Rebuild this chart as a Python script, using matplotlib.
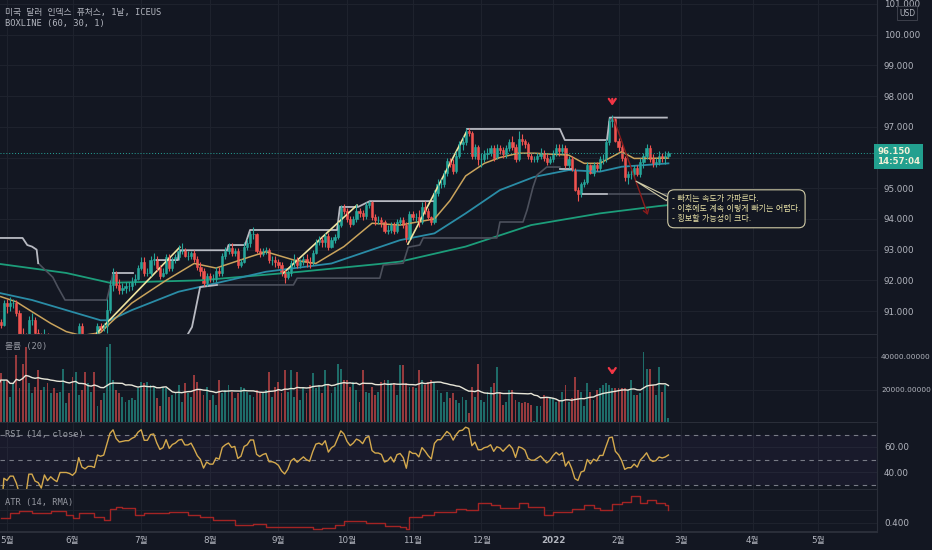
import numpy as np
import pandas as pd
import matplotlib.pyplot as plt
from matplotlib.ticker import FormatStrFormatter, FuncFormatter
from matplotlib.transforms import blended_transform_factory

plt.rcParams['font.family'] = ['DejaVu Sans', 'Noto Sans CJK KR']
MONO = ['DejaVu Sans Mono', 'Noto Sans CJK KR']

# 일봉 종가/고가/저가 (2021-04-28 ~ 2022-02-23, 평일 기준)
closes = (
    [90.65, 90.55, 91.25]
    + [91.15, 91.25, 91.25, 90.95, 90.25, 90.15, 90.10, 90.70, 90.70, 90.30, 90.20, 89.80, 90.25, 89.85, 90.00,
       89.80, 89.65, 90.00, 90.00, 90.00, 89.95]
    + [89.85, 89.95, 90.50, 90.05, 89.95, 90.05, 90.05, 90.00, 90.50, 90.45, 90.50, 91.05, 91.85, 92.20, 91.85,
       91.70, 91.75, 91.80, 91.80, 91.95, 92.05, 92.40]
    + [92.60, 92.25, 92.25, 92.65, 92.70, 92.40, 92.15, 92.25, 92.75, 92.40, 92.65, 92.75, 92.95, 93.00, 92.80,
       92.80, 92.90, 92.70, 92.45, 92.30, 91.90, 92.15]
    + [92.05, 92.05, 92.30, 92.25, 92.80, 92.95, 93.05, 92.90, 92.95, 92.50, 92.60, 93.10, 93.20, 93.50, 93.50,
       92.95, 92.85, 92.95, 93.00, 92.65, 92.65, 92.60]
    + [92.50, 92.25, 92.10, 92.25, 92.55, 92.65, 92.50, 92.60, 92.70, 92.60, 92.55, 92.90, 93.25, 93.30, 93.25,
       93.45, 93.10, 93.30, 93.40, 93.80, 94.35, 94.25]
    + [94.00, 93.85, 94.00, 94.25, 94.20, 94.10, 94.45, 94.55, 94.05, 93.95, 93.95, 93.90, 93.60, 93.65, 93.80,
       93.60, 93.90, 93.95, 93.80, 93.35, 94.15]
    + [94.05, 94.05, 93.90, 94.40, 94.25, 94.05, 93.90, 94.85, 95.15, 95.15, 95.50, 95.90, 95.80, 95.55, 96.05,
       96.45, 96.50, 96.85, 96.80, 96.05, 96.35, 95.95]
    + [95.95, 96.10, 96.15, 96.30, 96.00, 96.30, 96.25, 96.10, 96.30, 96.50, 96.35, 95.95, 96.60, 96.55, 96.45,
       96.05, 95.95, 95.95, 96.05, 96.15, 96.00, 95.85, 95.95]
    + [96.15, 96.30, 96.20, 96.30, 95.75, 95.95, 95.60, 94.95, 94.80, 95.15, 95.20, 95.75, 95.50, 95.75, 95.65,
       95.95, 95.95, 96.50, 97.20, 97.25, 96.55]
    + [96.35, 96.00, 95.35, 95.45, 95.45, 95.65, 95.45, 95.85, 96.05, 96.30, 95.95, 95.80, 95.85, 96.05, 96.00,
       96.05, 96.15]
)
highs = (
    [90.85, 90.75, 91.35]
    + [91.40, 91.45, 91.40, 91.35, 91.05, 90.45, 90.30, 90.85, 90.95, 90.80, 90.40, 90.30, 90.40, 90.30, 90.10,
       90.10, 89.90, 90.15, 90.20, 90.15, 90.15]
    + [90.10, 90.15, 90.60, 90.60, 90.15, 90.20, 90.25, 90.30, 90.60, 90.60, 90.60, 91.40, 92.00, 92.40, 92.30,
       92.05, 91.90, 91.95, 91.95, 92.10, 92.20, 92.50]
    + [92.75, 92.75, 92.40, 92.80, 92.90, 92.80, 92.50, 92.40, 92.85, 92.85, 92.75, 92.85, 93.15, 93.20, 93.05,
       92.95, 92.95, 93.00, 92.80, 92.60, 92.40, 92.25]
    + [92.25, 92.20, 92.45, 92.45, 92.90, 93.10, 93.20, 93.20, 93.05, 93.05, 92.70, 93.25, 93.35, 93.60, 93.75,
       93.55, 93.05, 93.05, 93.10, 93.05, 92.80, 92.80]
    + [92.70, 92.60, 92.35, 92.35, 92.65, 92.85, 92.75, 92.70, 92.80, 92.85, 92.75, 93.00, 93.35, 93.45, 93.40,
       93.55, 93.55, 93.40, 93.50, 93.90, 94.45, 94.50]
    + [94.35, 94.10, 94.10, 94.50, 94.35, 94.30, 94.55, 94.60, 94.60, 94.15, 94.10, 94.05, 93.95, 93.80, 93.90,
       93.90, 94.00, 94.05, 94.05, 93.90, 94.25]
    + [94.25, 94.20, 94.30, 94.55, 94.60, 94.35, 94.10, 94.95, 95.30, 95.30, 95.60, 96.00, 96.00, 95.95, 96.20,
       96.55, 96.70, 96.95, 96.95, 96.85, 96.45, 96.40]
    + [96.15, 96.25, 96.30, 96.40, 96.40, 96.45, 96.40, 96.35, 96.40, 96.60, 96.70, 96.45, 96.85, 96.75, 96.60,
       96.50, 96.15, 96.05, 96.15, 96.30, 96.25, 96.10, 96.05]
    + [96.25, 96.45, 96.45, 96.45, 96.40, 96.05, 96.05, 95.65, 95.05, 95.20, 95.30, 95.85, 95.80, 95.85, 95.85,
       96.05, 96.10, 96.60, 97.30, 97.40, 97.30]
    + [96.65, 96.45, 96.05, 95.55, 95.60, 95.75, 95.75, 96.00, 96.15, 96.45, 96.40, 96.10, 96.00, 96.20, 96.15,
       96.20, 96.20]
)
lows = (
    [90.55, 90.45, 90.50]
    + [90.95, 91.00, 91.10, 90.85, 90.10, 90.00, 89.95, 90.05, 90.55, 90.25, 90.10, 89.70, 89.65, 89.80, 89.75,
       89.70, 89.55, 89.60, 89.85, 89.85, 89.85]
    + [89.70, 89.75, 89.90, 89.95, 89.85, 89.90, 89.95, 89.70, 89.95, 90.35, 90.35, 90.30, 90.95, 91.65, 91.75,
       91.55, 91.55, 91.60, 91.65, 91.70, 91.85, 92.00]
    + [92.35, 92.15, 92.15, 92.15, 92.50, 92.30, 92.05, 92.10, 92.20, 92.30, 92.30, 92.55, 92.65, 92.85, 92.75,
       92.65, 92.70, 92.60, 92.35, 92.15, 91.80, 91.80]
    + [91.95, 91.95, 91.95, 92.15, 92.15, 92.70, 92.85, 92.80, 92.80, 92.40, 92.45, 92.55, 93.00, 93.10, 93.35,
       92.90, 92.75, 92.80, 92.85, 92.55, 92.50, 92.45]
    + [92.40, 92.15, 91.90, 92.05, 92.15, 92.45, 92.40, 92.40, 92.50, 92.45, 92.40, 92.50, 92.85, 93.15, 93.10,
       93.10, 93.00, 93.05, 93.20, 93.35, 93.75, 94.15]
    + [93.90, 93.75, 93.80, 93.90, 94.05, 93.95, 94.00, 94.35, 93.95, 93.80, 93.85, 93.75, 93.55, 93.50, 93.55,
       93.50, 93.55, 93.80, 93.70, 93.25, 93.30]
    + [93.95, 93.90, 93.75, 93.85, 94.15, 93.95, 93.80, 93.85, 94.75, 95.00, 95.05, 95.40, 95.70, 95.45, 95.50,
       96.00, 96.25, 96.40, 96.70, 95.95, 95.95, 95.75]
    + [95.70, 95.85, 95.95, 96.05, 95.90, 95.95, 96.10, 96.00, 96.00, 96.20, 96.25, 95.85, 95.90, 96.40, 96.30,
       95.95, 95.85, 95.85, 95.85, 95.95, 95.90, 95.75, 95.80]
    + [95.85, 96.05, 96.05, 96.10, 95.65, 95.65, 95.55, 94.90, 94.60, 94.70, 95.05, 95.15, 95.45, 95.40, 95.55,
       95.55, 95.80, 95.85, 96.40, 97.00, 96.50]
    + [96.20, 95.90, 95.25, 95.15, 95.30, 95.35, 95.40, 95.35, 95.65, 95.95, 95.85, 95.70, 95.70, 95.75, 95.85,
       95.80, 96.00]
)
first_open = 90.75

# 거래량 (천 단위)
volumes_k = (
    [22, 30, 26]
    + [26, 16, 24, 41, 21, 36, 46, 24, 18, 22, 32, 20, 22, 24, 18, 21, 18, 19, 33, 12, 18]
    + [28, 31, 17, 20, 31, 24, 19, 31, 10, 14, 18, 46, 48, 26, 20, 18, 16, 13, 14, 15, 14, 21]
    + [25, 24, 25, 23, 22, 15, 10, 22, 21, 16, 17, 18, 23, 13, 24, 18, 16, 29, 25, 20, 17, 22]
    + [14, 17, 11, 26, 18, 20, 23, 19, 15, 18, 22, 21, 19, 17, 16, 20, 18, 18, 20, 31, 16, 22]
    + [25, 18, 32, 19, 32, 16, 31, 14, 22, 18, 23, 30, 21, 23, 18, 32, 23, 18, 22, 36, 33, 26]
    + [26, 22, 25, 20, 13, 32, 19, 18, 22, 17, 19, 25, 26, 26, 24, 24, 17, 35, 35, 24, 22]
    + [22, 21, 32, 26, 23, 25, 26, 24, 20, 18, 13, 19, 15, 18, 14, 12, 16, 14, 6, 22, 16, 36]
    + [14, 13, 19, 22, 24, 34, 19, 11, 13, 20, 20, 14, 13, 12, 13, 12, 11, 1, 10, 10, 17, 16, 15]
    + [15, 13, 14, 19, 23, 13, 15, 28, 20, 19, 10, 24, 19, 14, 20, 21, 23, 24, 23, 21, 21]
    + [21, 21, 21, 20, 26, 17, 17, 18, 43, 33, 33, 23, 17, 34, 19, 23, 3]
)

# 이동평균선 (봉 번호, 값) - 차트에서 읽은 값
ma_fast_bar = [1, 6, 11, 17, 22, 27, 33, 36, 43, 51, 54, 63, 70, 81, 86, 95, 102, 111, 120, 129, 140, 145, 150,
               156, 161, 167, 172, 183, 188, 193, 200, 204, 215]
ma_fast_val = [91.47, 91.3, 90.98, 90.6, 90.33, 90.2, 90.3, 90.6, 91.26, 91.8, 92.0, 92.55, 92.4, 92.77, 92.93,
               92.66, 92.55, 93.1, 93.86, 93.8, 94.0, 94.6, 95.4, 95.81, 96.0, 96.14, 96.14, 96.08, 95.81, 95.81,
               96.19, 95.97, 95.98]
ma_mid_bar = [1, 11, 22, 33, 36, 43, 58, 65, 86, 107, 129, 140, 150, 161, 172, 183, 193, 200, 215]
ma_mid_val = [91.58, 91.36, 91.03, 90.7, 90.7, 91.03, 91.63, 91.79, 92.28, 92.55, 93.31, 93.53, 94.18, 94.94,
              95.37, 95.59, 95.54, 95.7, 95.81]
ma_slow_bar = [1, 22, 36, 65, 97, 122, 129, 150, 171, 193, 212, 215]
ma_slow_val = [92.53, 92.24, 91.92, 92.0, 92.28, 92.53, 92.61, 93.1, 93.8, 94.18, 94.42, 94.45]

# BOXLINE 선 (봉 번호, 가격)
box_light = [
    ([0.8, 8, 9.5, 11, 12.5, 13], [93.38, 93.38, 93.15, 93.1, 93.0, 92.56]),
    ([37, 43.4], [92.24, 92.24]),
    ([51, 57.8, 58.5, 73.5, 74, 79.3, 80.9, 108.8, 109.7, 115.5, 119.3, 139.5],
     [92.66, 92.66, 92.98, 92.98, 93.15, 93.15, 93.64, 93.64, 94.39, 94.39, 94.58, 94.58]),
    ([150.4, 180.2, 181.8, 195.3, 196.2, 214.5], [96.93, 96.93, 96.57, 96.57, 97.3, 97.3]),
    ([60.7, 62.3, 64.9, 70.3], [90.2, 90.48, 91.78, 91.85]),
    ([180.2, 184], [95.62, 95.62]),
    ([187.3, 195.3], [94.81, 94.81]),
]
box_dark = [
    ([13, 13.6, 17.7, 19.3, 21.6, 35, 36, 37], [92.56, 92.5, 92.1, 91.78, 91.36, 91.36, 91.78, 92.24]),
    ([70.3, 94.8, 96, 122.5, 123.6, 130, 131.6, 135.3, 136.4, 160, 161, 168.4, 169.7, 171.6, 172.9, 176, 180.2],
     [91.85, 91.85, 92.07, 92.07, 92.5, 92.56, 93.08, 93.15, 93.38, 93.38, 93.9, 93.9, 94.29, 95.04, 95.43,
      95.69, 95.69]),
    ([196, 214.5], [94.81, 94.81]),
]
trend_lines = [
    ([31.8, 58.4], [90.28, 93.08]),
    ([91.5, 115.2], [92.23, 94.45]),
    ([131.5, 150.1], [93.18, 96.8]),
]

# ATR (14, RMA)
atr_bar = [1, 4, 7, 11, 17, 22, 24, 26, 31, 34, 36, 38, 40, 44, 47, 51, 55, 61, 65, 69, 76, 82, 86, 92, 97, 101,
           104, 108, 111, 114, 118, 124, 129, 131, 132, 136, 140, 144, 147, 150, 154, 158, 161, 164, 167, 170,
           175, 178, 181, 184, 188, 191, 193, 195, 197, 200, 203, 206, 208, 211, 214, 215]
atr_val = [0.418, 0.44, 0.447, 0.437, 0.447, 0.431, 0.418, 0.437, 0.424, 0.412, 0.452, 0.46, 0.457, 0.431,
           0.437, 0.44, 0.443, 0.431, 0.424, 0.412, 0.392, 0.396, 0.386, 0.386, 0.384, 0.376, 0.38, 0.392,
           0.409, 0.409, 0.399, 0.388, 0.384, 0.376, 0.424, 0.431, 0.443, 0.443, 0.453, 0.45, 0.478, 0.469,
           0.456, 0.456, 0.478, 0.46, 0.431, 0.443, 0.443, 0.453, 0.469, 0.456, 0.45, 0.45, 0.473, 0.482,
           0.505, 0.476, 0.488, 0.476, 0.469, 0.45]

month_starts = ['2021-05-03', '2021-06-01', '2021-07-01', '2021-08-02', '2021-09-01', '2021-10-01',
                '2021-11-01', '2021-12-01', '2022-01-03', '2022-02-01', '2022-03-01', '2022-04-01', '2022-05-02']
month_labels = ['5월', '6월', '7월', '8월', '9월', '10월', '11월', '12월', '2022', '2월', '3월', '4월', '5월']

note = '- 빠지는 속도가 가파르다.\n- 이후에도 계속 이렇게 빠기는 어렵다.\n- 횡보할 가능성이 크다.'

dates = pd.bdate_range('2021-04-28', '2022-02-23')
assert len(dates) == len(closes) == len(highs) == len(lows) == len(volumes_k)
axis_dates = pd.bdate_range('2021-04-28', '2022-06-30')
month_pos = axis_dates.get_indexer(pd.to_datetime(month_starts))

BG = '#131722'
GRID = '#1e222d'
BORDER = '#2a2e39'
TXT = '#b2b5be'
UP = '#26a69a'
DOWN = '#ef5350'

x = np.arange(len(closes))
c = np.array(closes)
o = np.array([first_open] + closes[:-1])
h = np.array(highs)
l = np.array(lows)
up = c >= o
col = np.where(up, UP, DOWN)
vol = np.array(volumes_k) * 1000.0

s = pd.Series(c)
d = s.diff()
gain = d.clip(lower=0).ewm(alpha=1 / 14, adjust=False).mean()
loss = (-d.clip(upper=0)).ewm(alpha=1 / 14, adjust=False).mean()
rsi = 100 - 100 / (1 + gain / loss)
vol_ma = pd.Series(vol).rolling(20, min_periods=1).mean()

W, H = 932, 550
fig = plt.figure(figsize=(W / 100, H / 100), dpi=100, facecolor=BG)


def panel(top, bottom):
    a = fig.add_axes([0, 1 - bottom / H, 877 / W, (bottom - top) / H])
    a.set_facecolor(BG)
    a.set_xlim(0.76, 281.85)
    a.set_xticks(month_pos)
    a.grid(True, color=GRID, lw=0.8)
    a.set_axisbelow(True)
    for sp in a.spines.values():
        sp.set_visible(False)
    a.spines['right'].set_visible(True)
    a.spines['right'].set_color(BORDER)
    a.spines['bottom'].set_visible(True)
    a.spines['bottom'].set_color(BORDER)
    a.spines['bottom'].set_linewidth(1.5)
    a.yaxis.tick_right()
    a.tick_params(axis='both', length=0, labelbottom=False, labelsize=6.3, labelcolor=TXT)
    a.tick_params(axis='y', pad=5)
    return a


ax = panel(0, 335)
axv = panel(335, 423)
axr = panel(423, 490)
axa = panel(490, 532)

# 가격 차트
ax.set_ylim(90.22, 101.13)
ax.set_yticks(range(91, 102))
ax.yaxis.set_major_formatter(FuncFormatter(lambda v, p: '' if round(v) == 96 else '%.3f' % v))
ax.plot(ma_slow_bar, ma_slow_val, color='#1c9d7a', lw=1.3)
ax.plot(ma_mid_bar, ma_mid_val, color='#2a8ca6', lw=1.3)
ax.plot(ma_fast_bar, ma_fast_val, color='#c9a35c', lw=1.1)
for bx, by in box_dark:
    ax.plot(bx, by, color='#4c505c', lw=1.2)
for bx, by in box_light:
    ax.plot(bx, by, color='#b8bac2', lw=1.3)
for bx, by in trend_lines:
    ax.plot(bx, by, color='#f0e4a0', lw=1.2)
ax.vlines(x, l, h, colors=col, lw=0.8)
ax.bar(x, np.abs(c - o), bottom=np.minimum(c, o), width=0.7, color=col, edgecolor=col, linewidth=0.4)
ax.axhline(c[-1], color=UP, lw=0.7, ls=(0, (1, 2)))

peak = int(np.argmax(h))
ax.annotate('', xy=(peak, h[peak] + 0.2), xytext=(peak, h[peak] + 0.6),
            arrowprops=dict(arrowstyle='->,head_length=0.35,head_width=0.25', color='#f23645', lw=1.6))
ax.annotate('', xy=(208.4, 94.13), xytext=(peak + 0.4, h[peak] - 0.12),
            arrowprops=dict(arrowstyle='->,head_length=0.3,head_width=0.2', color='#8b1c1c', lw=1.0,
                            shrinkA=0, shrinkB=0))
ax.annotate(note, xy=(204.6, 95.23), xytext=(216.2, 94.33), va='center', ha='left',
            fontsize=5.8, color='#e6dfa5', linespacing=1.15,
            bbox=dict(boxstyle='round,pad=0.55,rounding_size=0.8', fc=BG, ec='#cfcaa6', lw=0.8),
            arrowprops=dict(arrowstyle='wedge,tail_width=0.5', fc=BG, ec='#cfcaa6', lw=0.8,
                            relpos=(0, 0.75), shrinkA=0, shrinkB=0))

tr = blended_transform_factory(ax.transAxes, ax.transData)
ax.text(1.0, c[-1] - 0.12, '%.3f\n14:57:04' % c[-1], transform=tr, va='center', ha='left',
        fontsize=6.2, color='#f3f0d7', fontweight='bold', linespacing=1.05, clip_on=False,
        bbox=dict(boxstyle='square,pad=0.35', fc='#22a08f', ec='none'))

# 거래량
axv.set_ylim(0, 53300)
axv.set_yticks([20000, 40000])
axv.yaxis.set_major_formatter(FormatStrFormatter('%.5f'))
axv.tick_params(axis='y', labelsize=5.3, pad=3)
axv.bar(x, vol, width=0.6, color=col, alpha=0.6)
axv.plot(x, vol_ma, color='#e8e6d8', lw=1.0)
axv.annotate('', xy=(peak, 27500), xytext=(peak, 33500),
             arrowprops=dict(arrowstyle='->,head_length=0.35,head_width=0.25', color='#f23645', lw=1.6))

# RSI
axr.set_ylim(25.6, 79.2)
axr.set_yticks([40, 60])
axr.yaxis.set_major_formatter(FormatStrFormatter('%.2f'))
axr.axhspan(30, 70, color='#7e57c2', alpha=0.06, lw=0)
for lv in (30, 50, 70):
    axr.axhline(lv, color='#787b86', lw=0.8, ls=(0, (4, 4)))
axr.plot(x, rsi, color='#d4a94d', lw=1.0)

# ATR
axa.set_ylim(0.365, 0.527)
axa.set_yticks([0.4])
axa.yaxis.set_major_formatter(FormatStrFormatter('%.3f'))
axa.axhline(0.45, color=GRID, lw=0.8, zorder=0)
axa.plot(atr_bar, atr_val, color='#a32424', lw=1.0, drawstyle='steps-post')
axa.set_xticklabels(month_labels)
axa.tick_params(axis='x', labelbottom=True, pad=3)
for lab in axa.get_xticklabels():
    if lab.get_text() == '2022':
        lab.set_fontweight('bold')

# 범례/라벨 텍스트
fig.text(5 / W, 1 - 12 / H, '미국 달러 인덱스 퓨처스, 1날, ICEUS', family=MONO, fontsize=6.3, color=TXT, va='center')
fig.text(5 / W, 1 - 23.5 / H, 'BOXLINE (60, 30, 1)', family=MONO, fontsize=6.3, color=TXT, va='center')
fig.text(5 / W, 1 - 346.5 / H, '볼륨 (20)', family=MONO, fontsize=6.3, color='#9598a1', va='center')
fig.text(5 / W, 1 - 435 / H, 'RSI (14, close)', family=MONO, fontsize=6.3, color='#9598a1', va='center')
fig.text(5 / W, 1 - 502.5 / H, 'ATR (14, RMA)', family=MONO, fontsize=6.3, color='#9598a1', va='center')
fig.text(907 / W, 1 - 13 / H, 'USD', fontsize=5.5, color=TXT, ha='center', va='center',
         bbox=dict(boxstyle='square,pad=0.3', fc=BG, ec='#434651', lw=0.6))

fig.savefig('out.png', dpi=100, facecolor=BG)
